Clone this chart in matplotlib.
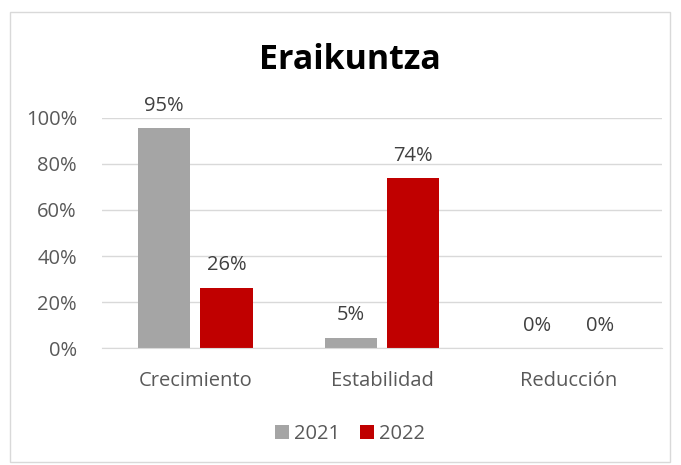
import numpy as np
import matplotlib.pyplot as plt
from matplotlib.patches import Rectangle

categories = ['Crecimiento', 'Estabilidad', 'Reducción']
years = ['2021', '2022']
vals_2021 = [0.955, 0.045, 0.0]
vals_2022 = [0.262, 0.738, 0.0]
labels_2021 = ['95%', '5%', '0%']
labels_2022 = ['26%', '74%', '0%']
colors = ['#A5A5A5', '#C00000']

plt.rcParams['font.family'] = ['Open Sans', 'DejaVu Sans']

fig = plt.figure(figsize=(6.81, 4.65), dpi=100)
ax = fig.add_axes([102 / 681, 1 - 348.3 / 465, 560 / 681, 230.6 / 465])

x = np.arange(len(categories))
w = 0.28
gap = 0.054
off = (w + gap) / 2
b1 = ax.bar(x - off, vals_2021, w, color=colors[0], label=years[0])
b2 = ax.bar(x + off, vals_2022, w, color=colors[1], label=years[1])

# value labels above each bar
for bars, labs in [(b1, labels_2021), (b2, labels_2022)]:
    for b, lab in zip(bars, labs):
        ax.annotate(lab, (b.get_x() + b.get_width() / 2, b.get_height()),
                    xytext=(0, 9), textcoords='offset points',
                    ha='center', va='bottom', fontsize=14.5, color='#404040')

ax.set_xlim(-0.5, 2.5)
ax.set_ylim(0, 1.0)
ax.set_yticks([0, 0.2, 0.4, 0.6, 0.8, 1.0])
ax.set_yticklabels(['0%', '20%', '40%', '60%', '80%', '100%'])
ax.set_xticks(x)
ax.set_xticklabels(categories)
ax.tick_params(axis='both', length=0, labelsize=14.5, labelcolor='#595959')
ax.tick_params(axis='x', pad=16)
ax.tick_params(axis='y', pad=18)
ax.grid(axis='y', color='#D9D9D9', linewidth=1)
ax.set_axisbelow(True)
for s in ['top', 'right', 'left']:
    ax.spines[s].set_visible(False)
ax.spines['bottom'].set_color('#D9D9D9')

fig.text(350 / 681, 1 - 60 / 465, 'Eraikuntza', ha='center', va='center',
         fontsize=24.5, fontweight='bold', color='black')

fig.legend(handles=[b1, b2], loc='center', bbox_to_anchor=(350 / 681, 1 - 434 / 465),
           ncol=2, frameon=False, fontsize=14.5, handlelength=0.7, handleheight=0.7,
           columnspacing=1.0, handletextpad=0.25, labelcolor='#595959')

fig.patches.append(Rectangle((10 / 681, 1 - 462 / 465), 660 / 681, 450 / 465,
                             transform=fig.transFigure, fill=False,
                             edgecolor='#D9D9D9', linewidth=1))

fig.savefig('out.png', dpi=100)
